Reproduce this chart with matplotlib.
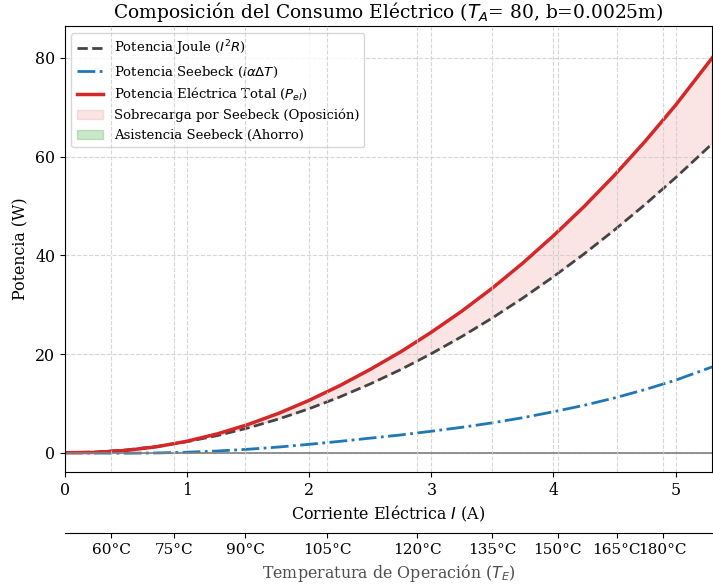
import numpy as np
import matplotlib
matplotlib.use('Agg')
import matplotlib.pyplot as plt
import matplotlib.patches as mpatches

plt.rcParams['font.family'] = 'serif'

## Data
corriente = [0.0, 0.25, 0.5, 0.75, 1.0, 1.25, 1.5, 1.75, 2.0, 2.25, 2.5,
             2.75, 3.0, 3.25, 3.5, 3.75, 4.0, 4.25, 4.5, 4.75, 5.0, 5.3]
p_joule = [0.0, 0.14, 0.56, 1.25, 2.23, 3.48, 5.02, 6.83, 8.92, 11.29, 13.94,
           16.86, 20.07, 23.55, 27.32, 31.36, 35.68, 40.28, 45.16, 50.31, 55.75, 62.64]
p_seebeck = [0.0, -0.08, -0.1, -0.05, 0.1, 0.35, 0.7, 1.15, 1.7, 2.3, 2.95,
             3.6, 4.35, 5.15, 6.05, 7.1, 8.3, 9.6, 11.1, 12.8, 14.7, 17.4]
p_total = [0.0, 0.06, 0.46, 1.20, 2.33, 3.83, 5.72, 7.98, 10.62, 13.59, 16.89,
           20.46, 24.42, 28.70, 33.37, 38.46, 43.98, 49.88, 56.26, 63.11, 70.45, 80.04]

# secondary axis: temperature ticks placed at the current where they occur
temp_pos = [0.380, 0.892, 1.478, 2.148, 2.884, 3.499, 4.035, 4.517, 4.894]
temp_labels = ['60°C', '75°C', '90°C', '105°C', '120°C', '135°C', '150°C', '165°C', '180°C']

I = np.array(corriente)
pj = np.array(p_joule)
ps = np.array(p_seebeck)
pt = np.array(p_total)

### Plot figure
fig, ax = plt.subplots(figsize=(7.13, 5.87), dpi=100)
fig.subplots_adjust(left=0.091, right=0.999, top=0.955, bottom=0.196)

ax.plot(I, pj, linestyle='--', color='#444444', linewidth=2, label=r'Potencia Joule ($I^2R$)')
ax.plot(I, ps, linestyle='-.', color='tab:blue', linewidth=2, label=r'Potencia Seebeck ($I\alpha\Delta T$)')
ax.plot(I, pt, linestyle='-', color='tab:red', linewidth=2.5, label=r'Potencia Eléctrica Total ($P_{el}$)')

ax.fill_between(I, pj, pt, where=pt >= pj, color='tab:red', alpha=0.12, interpolate=True)
ax.fill_between(I, pj, pt, where=pt < pj, color='tab:green', alpha=0.25, interpolate=True)
ax.axhline(0, color='gray', linewidth=1.2)

ax.set_xlim(0, 5.3)
ax.set_ylim(-3.9, 86.4)
ax.set_xlabel(r'Corriente Eléctrica $I$ (A)', fontsize=11.4)
ax.set_ylabel('Potencia (W)', fontsize=11.4)
ax.set_title(r'Composición del Consumo Eléctrico ($T_A$= 80, b=0.0025m)', fontsize=13.4)
ax.tick_params(labelsize=11.4)
ax.grid(True, linestyle='--', color='#cccccc', alpha=0.8)

handles, labels = ax.get_legend_handles_labels()
handles += [mpatches.Patch(color='tab:red', alpha=0.12),
            mpatches.Patch(color='tab:green', alpha=0.25)]
labels += ['Sobrecarga por Seebeck (Oposición)', 'Asistencia Seebeck (Ahorro)']
ax.legend(handles, labels, loc='upper left', fontsize=9.5)

# secondary temperature axis below
ax2 = ax.twiny()
ax2.set_xlim(ax.get_xlim())
ax2.xaxis.set_ticks_position('bottom')
ax2.xaxis.set_label_position('bottom')
ax2.spines['bottom'].set_position(('outward', 44))
for s in ['top', 'left', 'right']:
    ax2.spines[s].set_visible(False)
ax2.set_xticks(temp_pos)
ax2.set_xticklabels(temp_labels)
ax2.tick_params(labelsize=11)
ax2.set_xlabel(r'Temperatura de Operación ($T_E$)', fontsize=11.4, color='#4d4d4d')
ax2.grid(True, linestyle='--', color='#cccccc', alpha=0.8)

plt.savefig('out.png', dpi=100)
